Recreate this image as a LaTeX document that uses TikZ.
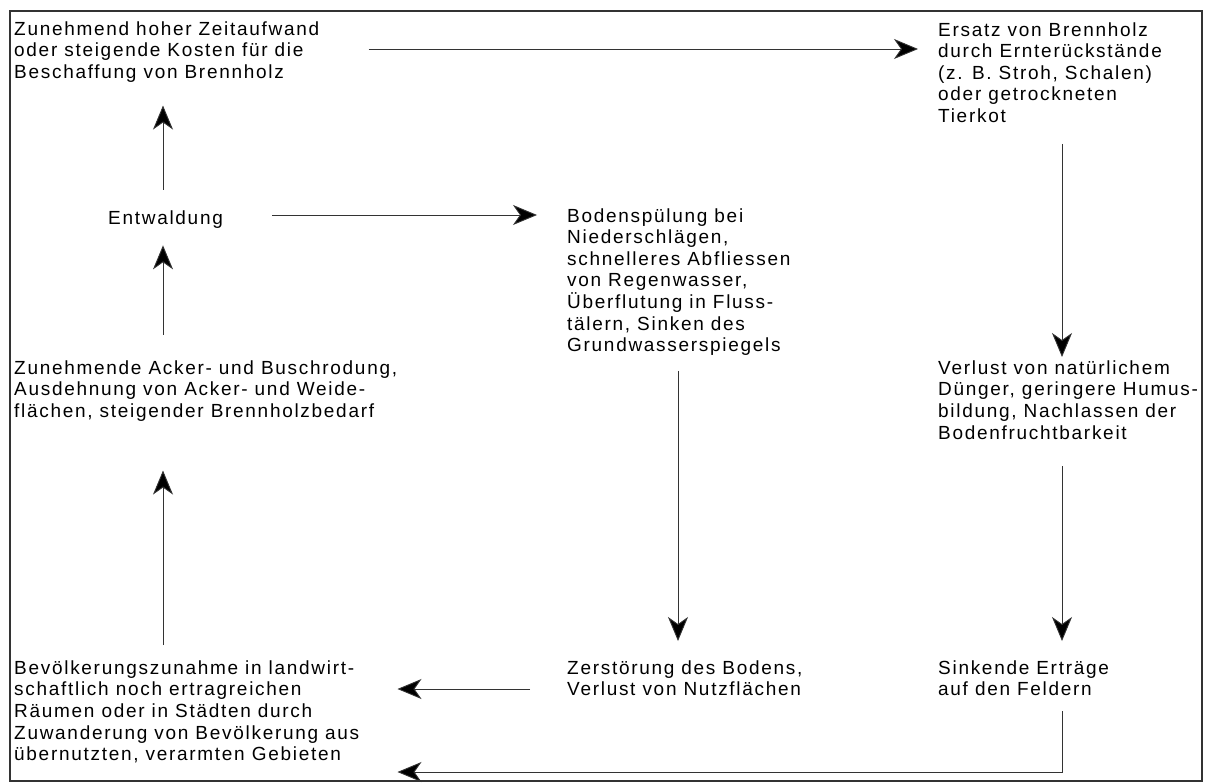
\documentclass[tikz,border=0pt]{standalone}
\usepackage{fontspec}
\setmainfont{Liberation Sans}[LetterSpace=9.0]
\usetikzlibrary{arrows.meta,calc}
\begin{document}
\begin{tikzpicture}[x=1pt,y=-1pt,
  txt/.style={anchor=north west,inner sep=0pt,align=left,font=\fontsize{19}{21.6}\selectfont},
  arr/.style={draw=black!80,line width=0.9pt,-{Stealth[length=24pt,width=20pt,inset=7pt,fill=black]}}]
\useasboundingbox (0,0) rectangle (1215,783);
\draw[line width=1.4pt,black!80] (10,11) rectangle (1202,781);
\newcommand{\fs}{\rule{0pt}{16pt}}
\node[txt] (a) at (14,19) {\fs Zunehmend hoher Zeitaufwand\\oder steigende Kosten für die\\Beschaffung von Brennholz};
\node[txt] (b) at (938,20) {\fs Ersatz von Brennholz\\durch Ernterückstände\\(z. B. Stroh, Schalen)\\oder getrockneten\\Tierkot};
\node[txt] (ent) at (108,208) {\fs Entwaldung};
\node[txt] (c) at (567,206) {\fs Bodenspülung bei\\Niederschlägen,\\schnelleres Abfliessen\\von Regenwasser,\\Überflutung in Fluss-\\tälern, Sinken des\\Grundwasserspiegels};
\node[txt] (d) at (14,358) {\fs Zunehmende Acker- und Buschrodung,\\Ausdehnung von Acker- und Weide-\\flächen, steigender Brennholzbedarf};
\node[txt] (e) at (938,358) {\fs Verlust von natürlichem\\Dünger, geringere Humus-\\bildung, Nachlassen der\\Bodenfruchtbarkeit};
\node[txt] (f) at (14,658) {\fs Bevölkerungszunahme in landwirt-\\schaftlich noch ertragreichen\\Räumen oder in Städten durch\\Zuwanderung von Bevölkerung aus\\übernutzten, verarmten Gebieten};
\node[txt] (g) at (567,658) {\fs Zerstörung des Bodens,\\Verlust von Nutzflächen};
\node[txt] (h) at (938,658) {\fs Sinkende Erträge\\auf den Feldern};
\coordinate (colR) at (1062,0);
\coordinate (colM) at (678,0);
\coordinate (colL) at (163,0);
\coordinate (rowA) at (0,49);
\coordinate (rowE) at (0,215);
\coordinate (rowG) at (0,689);
\coordinate (rowB) at (0,772);
% arrows
\draw[arr,shorten <=49pt,shorten >=20pt] (a.east |- rowA) -- (b.west |- rowA);
\draw[arr,shorten <=21pt,shorten >=1pt] (b.south -| colR) -- (e.north -| colR);
\draw[arr,shorten <=27pt,shorten >=17pt] (e.south -| colR) -- (h.north -| colR);
\draw[arr,shorten <=15pt,shorten >=38pt] (h.south -| colR) |- (f.east |- rowB);
\draw[arr,shorten <=37pt,shorten >=38pt] (g.west |- rowG) -- (f.east |- rowG);
\draw[arr,shorten <=15pt,shorten >=17pt] (c.south -| colM) -- (g.north -| colM);
\draw[arr,shorten <=13pt,shorten >=49pt] (f.north -| colL) -- (d.south -| colL);
\draw[arr,shorten <=23pt,shorten >=17pt] (d.north -| colL) -- (ent.south -| colL);
\draw[arr,shorten <=18pt,shorten >=23pt] (ent.north -| colL) -- (a.south -| colL);
\draw[arr,shorten <=49pt,shorten >=30pt] (ent.east |- rowE) -- (c.west |- rowE);
\end{tikzpicture}
\end{document}
